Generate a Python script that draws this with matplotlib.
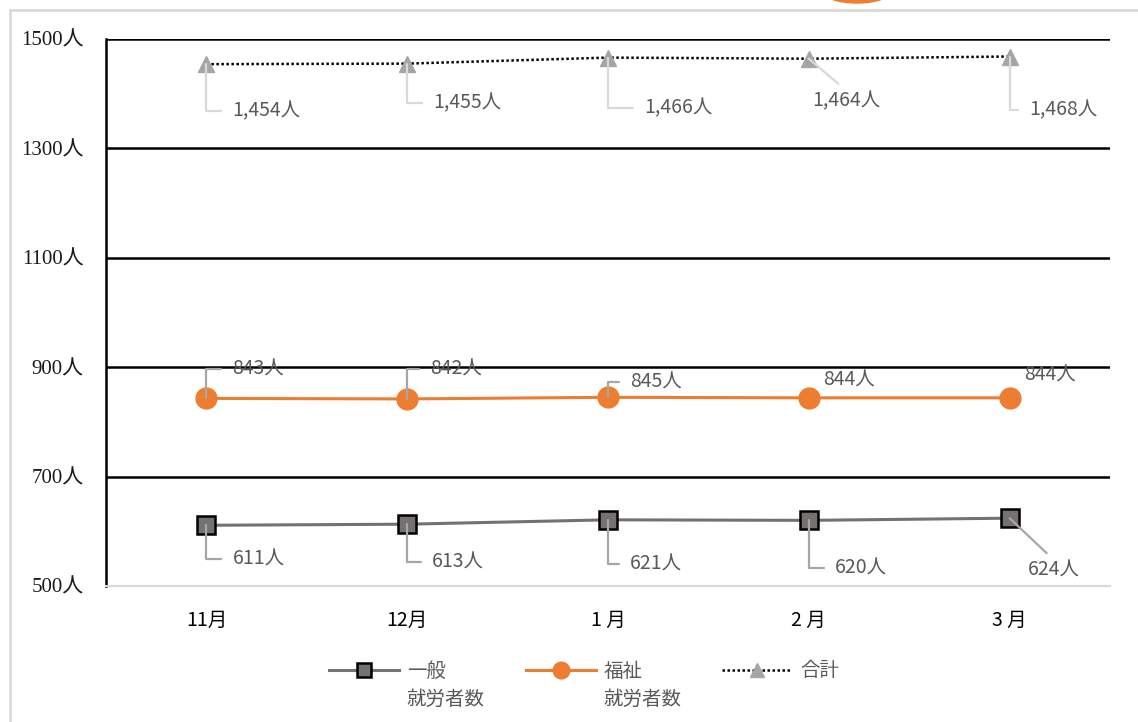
import matplotlib.pyplot as plt
from matplotlib.patches import Rectangle, Ellipse

months = ['11月', '12月', '1 月', '2 月', '3 月']
general = [611, 613, 621, 620, 624]
welfare = [843, 842, 845, 844, 844]
total = [1454, 1455, 1466, 1464, 1468]
yticks = [500, 700, 900, 1100, 1300, 1500]
series_names = ['一般', '福祉', '合計']
name_suffix = ['就労者数', '就労者数', '']

jp = ['Noto Sans CJK JP', 'DejaVu Sans']
serif = ['Liberation Serif', 'Noto Sans CJK JP']

fig = plt.figure(figsize=(11.38, 7.22), dpi=100)
ax = fig.add_axes([106 / 1138, 136 / 722, 1004 / 1138, 547 / 722])

# chart frame and the cut-off shape at the top
fig.patches.append(Rectangle((10 / 1138, -0.1), 1.1, 1.1 - 10 / 722,
                             transform=fig.transFigure, fill=False,
                             edgecolor='#d9d9d9', linewidth=2))
fig.patches.append(Ellipse((857 / 1138, 1 + 8 / 722), 66 / 1138, 22 / 722,
                           transform=fig.transFigure, color='#ED7D31'))

x = range(len(months))
ax.plot(x, general, color='#767171', lw=2.2, marker='s', ms=13,
        mfc='#767171', mec='black', mew=1.8, label=series_names[0], zorder=4)
ax.plot(x, welfare, color='#ED7D31', lw=2.2, marker='o', ms=15,
        label=series_names[1], zorder=4)
ax.plot(x, total, color='black', lw=1.8, ls=(0, (1, 1)), marker='^', ms=12,
        mfc='#A5A5A5', mec='#A5A5A5', label=series_names[2], zorder=4)

ax.set_xlim(-0.5, 4.5)
ax.set_ylim(500, 1500)
ax.set_yticks(yticks)
ax.set_yticklabels([f'{v}人' for v in yticks], family=serif, fontsize=15,
                   color='#1a1a1a')
ax.set_xticks(list(x))
ax.set_xticklabels(months, family=jp, fontsize=14, color='black')
ax.tick_params(length=0)
ax.tick_params(axis='x', pad=17)
ax.tick_params(axis='y', pad=16)
ax.grid(axis='y', color='black', lw=1.8)
for s in ['top', 'right']:
    ax.spines[s].set_visible(False)
ax.spines['left'].set_color('black')
ax.spines['left'].set_linewidth(1.8)
ax.spines['bottom'].set_color('#d9d9d9')
ax.spines['bottom'].set_linewidth(1.5)

# label offsets in pixels and leader style: 'elbow', 'diag' or None
gen_off = [(26, -34), (25, -38), (22, -44), (26, -48), (18, -52)]
gen_lead = ['elbow', 'elbow', 'elbow', 'elbow', 'diag']
wel_off = [(26, 29), (23, 30), (22, 15), (14, 18), (15, 23)]
wel_lead = ['elbow', 'elbow', 'elbow', None, None]
tot_off = [(26, -47), (26, -39), (36, -50), (3, -42), (20, -53)]
tot_lead = ['elbow', 'elbow', 'elbow', 'diag', 'elbow']


def labels(vals, offs, leads, lead_color):
    for i, (v, (dx, dy), ld) in enumerate(zip(vals, offs, leads)):
        txt = f'{v:,}人'
        kw = dict(xy=(i, v), xytext=(dx, dy), textcoords='offset pixels',
                  ha='left', va='center', fontsize=14, color='#595959',
                  family=jp, zorder=5)
        if ld == 'elbow':
            kw['arrowprops'] = dict(arrowstyle='-', color=lead_color, lw=1.6,
                                    shrinkA=6, shrinkB=0, relpos=(0, 0.5),
                                    connectionstyle='angle,angleA=0,angleB=90,rad=0')
        elif ld == 'diag':
            kw['arrowprops'] = dict(arrowstyle='-', color=lead_color, lw=1.6,
                                    shrinkA=4, shrinkB=0, relpos=(0.5, 1.0))
        ax.annotate(txt, **kw)


labels(general, gen_off, gen_lead, '#a6a6a6')
labels(welfare, wel_off, wel_lead, '#a6a6a6')
labels(total, tot_off, tot_lead, '#d9d9d9')

leg = fig.legend(loc='center', bbox_to_anchor=(584 / 1138, 1 - 671 / 722), ncol=3,
                 frameon=False, handlelength=3.6, columnspacing=4.1,
                 handletextpad=0.4, prop={'family': jp, 'size': 14})
for t in leg.get_texts():
    t.set_color('#595959')
for h, ms in zip(leg.legend_handles, [10, 12, 10]):
    h.set_markersize(ms)

# second line of the legend labels, set under the first
fig.canvas.draw()
for t, suf in zip(leg.get_texts(), name_suffix):
    if suf:
        bb = t.get_window_extent()
        fig.text(bb.x0, bb.y0 - 7, suf, transform=None, ha='left', va='top',
                 fontsize=14, family=jp, color='#595959')

fig.savefig('out.png', dpi=100)
